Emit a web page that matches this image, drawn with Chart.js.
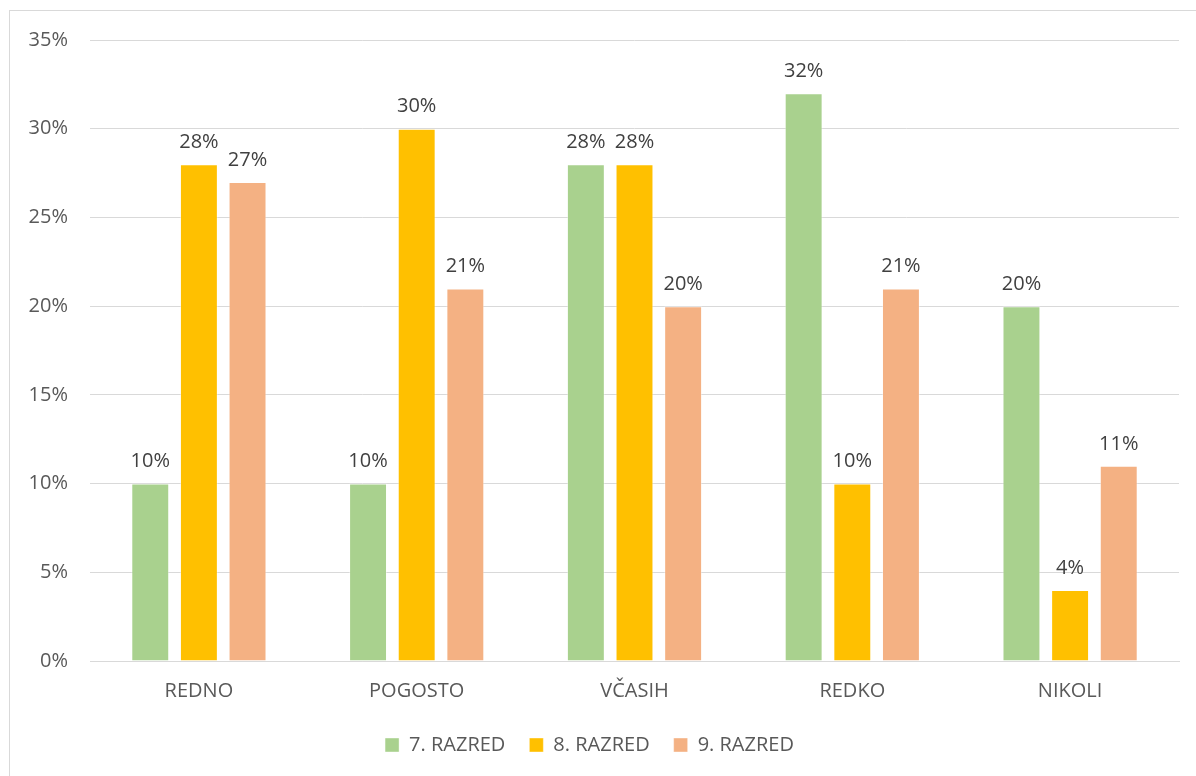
<!DOCTYPE html>
<html>
<head>
<meta charset="utf-8">
<script src="https://cdn.jsdelivr.net/npm/chart.js@4"></script>
<style>
  html, body { margin: 0; padding: 0; background: #fff; }
  .frame {
    position: absolute; left: 9px; top: 10px; width: 1200px; height: 780px;
    border: 1px solid #D9D9D9; box-sizing: border-box;
  }
  .wrap { position: absolute; left: 0; top: 0; width: 1196px; height: 776px; }
</style>
</head>
<body>
<div class="frame"></div>
<div class="wrap"><canvas id="razredChart"></canvas></div>
<script>
// ===== Data =====
const categories = ['REDNO', 'POGOSTO', 'VČASIH', 'REDKO', 'NIKOLI'];
const seriesNames = ['7. RAZRED', '8. RAZRED', '9. RAZRED'];
const razred7 = [10, 10, 28, 32, 20];
const razred8 = [28, 30, 28, 10, 4];
const razred9 = [27, 21, 20, 21, 11];
const yTicks = [0, 5, 10, 15, 20, 25, 30, 35];

const colors = ['#A9D18E', '#FFC000', '#F4B183'];
const textColor = '#595959';
const fontFamily = '"Open Sans", "Liberation Sans", sans-serif';
const fontSize = 20;

// ===== Value labels above bars =====
const barLabels = {
  id: 'barLabels',
  afterDatasetsDraw(chart) {
    const ctx = chart.ctx;
    ctx.save();
    ctx.font = fontSize + 'px ' + fontFamily;
    ctx.fillStyle = '#404040';
    ctx.textAlign = 'center';
    ctx.textBaseline = 'bottom';
    chart.data.datasets.forEach((ds, i) => {
      chart.getDatasetMeta(i).data.forEach((bar, j) => {
        ctx.fillText(ds.data[j] + '%', bar.x, bar.y - 12);
      });
    });
    ctx.restore();
  }
};

const ctx = document.getElementById('razredChart').getContext('2d');
new Chart(ctx, {
  type: 'bar',
  data: {
    labels: categories,
    datasets: [razred7, razred8, razred9].map((vals, i) => ({
      label: seriesNames[i],
      data: vals,
      backgroundColor: colors[i],
      borderColor: 'rgba(255,255,255,0.4)',
      borderWidth: 1,
      categoryPercentage: 0.67,
      barPercentage: 0.78
    }))
  },
  options: {
    responsive: true,
    maintainAspectRatio: false,
    animation: false,
    layout: { padding: { top: 40, right: 17, bottom: 11, left: 0 } },
    plugins: {
      tooltip: { enabled: false },
      legend: {
        position: 'bottom',
        labels: {
          boxWidth: 14,
          boxHeight: 14,
          padding: 24,
          color: textColor,
          font: { family: fontFamily, size: fontSize }
        }
      }
    },
    scales: {
      x: {
        grid: { display: false },
        border: { color: '#D9D9D9', width: 1 },
        ticks: { color: textColor, padding: 10, font: { family: fontFamily, size: fontSize } },
        afterFit: (scale) => { scale.height = 50; }
      },
      y: {
        min: 0,
        max: 35,
        afterBuildTicks: (scale) => { scale.ticks = yTicks.map(v => ({ value: v })); },
        grid: { color: '#D9D9D9', lineWidth: 1, drawTicks: false },
        border: { display: false },
        ticks: {
          color: textColor,
          padding: 22,
          font: { family: fontFamily, size: fontSize },
          callback: (v) => v + '%'
        },
        afterFit: (scale) => { scale.width = 90; }
      }
    }
  },
  plugins: [barLabels]
});
</script>
</body>
</html>
